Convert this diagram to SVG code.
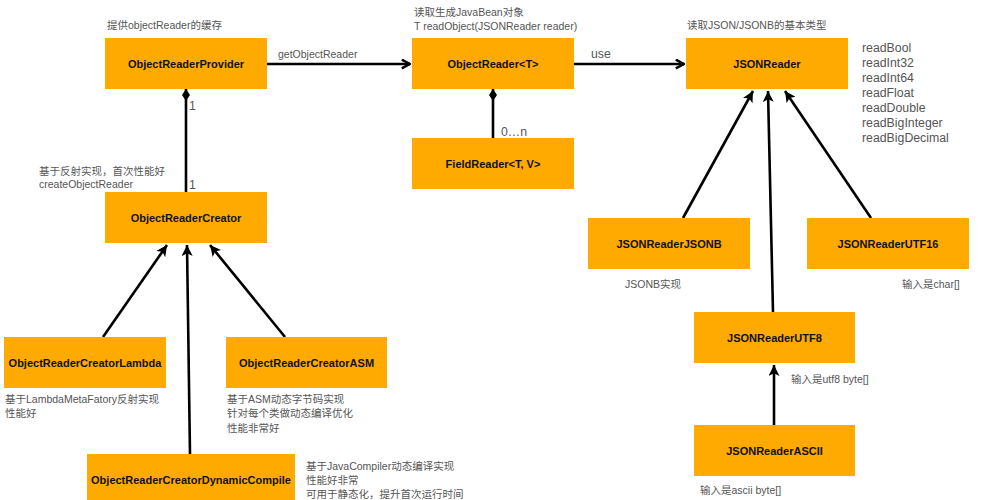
<svg xmlns="http://www.w3.org/2000/svg" width="984" height="500" viewBox="0 0 984 500">
<style>
.box{fill:#FEAA00;}
.lbl{font-family:"Liberation Sans","Noto Sans CJK SC",sans-serif;font-size:11px;font-weight:bold;fill:#111;text-anchor:middle;}
.note{font-family:"Liberation Sans","Noto Sans CJK SC",sans-serif;font-size:10.5px;fill:#555;}
.big{font-family:"Liberation Sans","Noto Sans CJK SC",sans-serif;font-size:12.3px;fill:#555;}
.ln{stroke:#000;stroke-width:2.6;fill:none;}
.inh{marker-end:url(#tri);}
.use{marker-end:url(#chev);}
.comp{marker-start:url(#dia);}
</style>
<defs>
<marker id="tri" viewBox="0 0 10 10" refX="10" refY="5" markerWidth="11" markerHeight="11" markerUnits="userSpaceOnUse" orient="auto">
<path d="M0,0 L10,5 L0,10 L2.5,5 z" fill="#000"/>
</marker>
<marker id="chev" viewBox="0 0 10 10" refX="9" refY="5" markerWidth="11" markerHeight="11" markerUnits="userSpaceOnUse" orient="auto">
<path d="M1.5,1 L9,5 L1.5,9" fill="none" stroke="#000" stroke-width="2.2"/>
</marker>
<marker id="dia" viewBox="0 0 12 8" refX="0" refY="4" markerWidth="12" markerHeight="8" markerUnits="userSpaceOnUse" orient="auto">
<path d="M0,4 L6,0 L12,4 L6,8 z" fill="#000"/>
</marker>
</defs>

<g id="connectors">
<line class="ln use" x1="267" y1="64" x2="410" y2="64"/>
<line class="ln use" x1="574" y1="64" x2="684" y2="64"/>
<line class="ln comp" x1="186" y1="89" x2="186" y2="192"/>
<line class="ln comp" x1="493" y1="89" x2="493" y2="138"/>
<line class="ln inh" x1="103" y1="337" x2="167" y2="245"/>
<line class="ln inh" x1="190" y1="454" x2="187" y2="245"/>
<line class="ln inh" x1="285" y1="337" x2="210" y2="245"/>
<line class="ln inh" x1="683" y1="218" x2="753" y2="91"/>
<line class="ln inh" x1="773" y1="312" x2="768" y2="91"/>
<line class="ln inh" x1="871" y1="218" x2="785" y2="91"/>
<line class="ln inh" x1="774" y1="425" x2="774" y2="365"/>
<text class="note" x="278" y="58">getObjectReader</text>
<text class="big" x="591" y="58">use</text>
<text class="big" x="189" y="110">1</text>
<text class="big" x="189" y="189">1</text>
<text class="big" x="501" y="136">0…n</text>
</g>

<g id="ObjectReaderProvider">
<rect class="box" x="105" y="38" width="162" height="51"/>
<text class="lbl" x="186" y="67.5">ObjectReaderProvider</text>
<text class="note" x="107" y="29">提供objectReader的缓存</text>
</g>

<g id="ObjectReaderCreator">
<rect class="box" x="105" y="192" width="162" height="51"/>
<text class="lbl" x="186" y="221.5">ObjectReaderCreator</text>
<text class="note" x="39" y="175">基于反射实现，首次性能好</text>
<text class="note" x="39" y="188">createObjectReader</text>
</g>

<g id="ObjectReader">
<rect class="box" x="412" y="38" width="162" height="51"/>
<text class="lbl" x="493" y="67.5">ObjectReader&lt;T&gt;</text>
<text class="note" x="414" y="16">读取生成JavaBean对象</text>
<text class="note" x="414" y="30">T readObject(JSONReader reader)</text>
</g>

<g id="FieldReader">
<rect class="box" x="412" y="138" width="162" height="51"/>
<text class="lbl" x="493" y="167.5">FieldReader&lt;T, V&gt;</text>
</g>

<g id="JSONReader">
<rect class="box" x="686" y="38" width="162" height="51"/>
<text class="lbl" x="767" y="67.5">JSONReader</text>
<text class="note" x="687" y="29">读取JSON/JSONB的基本类型</text>
<text class="big" x="862" y="52">readBool</text>
<text class="big" x="862" y="67">readInt32</text>
<text class="big" x="862" y="82">readInt64</text>
<text class="big" x="862" y="97">readFloat</text>
<text class="big" x="862" y="112">readDouble</text>
<text class="big" x="862" y="127">readBigInteger</text>
<text class="big" x="862" y="142">readBigDecimal</text>
</g>

<g id="JSONReaderJSONB">
<rect class="box" x="588" y="218" width="162" height="51"/>
<text class="lbl" x="669" y="247.5">JSONReaderJSONB</text>
<text class="note" x="625" y="288">JSONB实现</text>
</g>

<g id="JSONReaderUTF16">
<rect class="box" x="807" y="218" width="162" height="51"/>
<text class="lbl" x="888" y="247.5">JSONReaderUTF16</text>
<text class="note" x="902" y="288">输入是char[]</text>
</g>

<g id="JSONReaderUTF8">
<rect class="box" x="694" y="312" width="161" height="51"/>
<text class="lbl" x="774.5" y="341.5">JSONReaderUTF8</text>
<text class="note" x="791" y="383">输入是utf8 byte[]</text>
</g>

<g id="JSONReaderASCII">
<rect class="box" x="694" y="425" width="161" height="51"/>
<text class="lbl" x="774.5" y="454.5">JSONReaderASCII</text>
<text class="note" x="700" y="494">输入是ascii byte[]</text>
</g>

<g id="ObjectReaderCreatorLambda">
<rect class="box" x="4" y="337" width="162" height="51"/>
<text class="lbl" x="85" y="366.5">ObjectReaderCreatorLambda</text>
<text class="note" x="5" y="403">基于LambdaMetaFatory反射实现</text>
<text class="note" x="5" y="417">性能好</text>
</g>

<g id="ObjectReaderCreatorASM">
<rect class="box" x="226" y="337" width="161" height="51"/>
<text class="lbl" x="306.5" y="366.5">ObjectReaderCreatorASM</text>
<text class="note" x="227" y="403">基于ASM动态字节码实现</text>
<text class="note" x="227" y="417">针对每个类做动态编译优化</text>
<text class="note" x="227" y="432">性能非常好</text>
</g>

<g id="ObjectReaderCreatorDynamicCompile">
<rect class="box" x="87" y="454" width="208" height="51"/>
<text class="lbl" x="191" y="483.5">ObjectReaderCreatorDynamicCompile</text>
<text class="note" x="306" y="470">基于JavaCompiler动态编译实现</text>
<text class="note" x="306" y="484">性能好非常</text>
<text class="note" x="306" y="498">可用于静态化，提升首次运行时间</text>
</g>
</svg>
